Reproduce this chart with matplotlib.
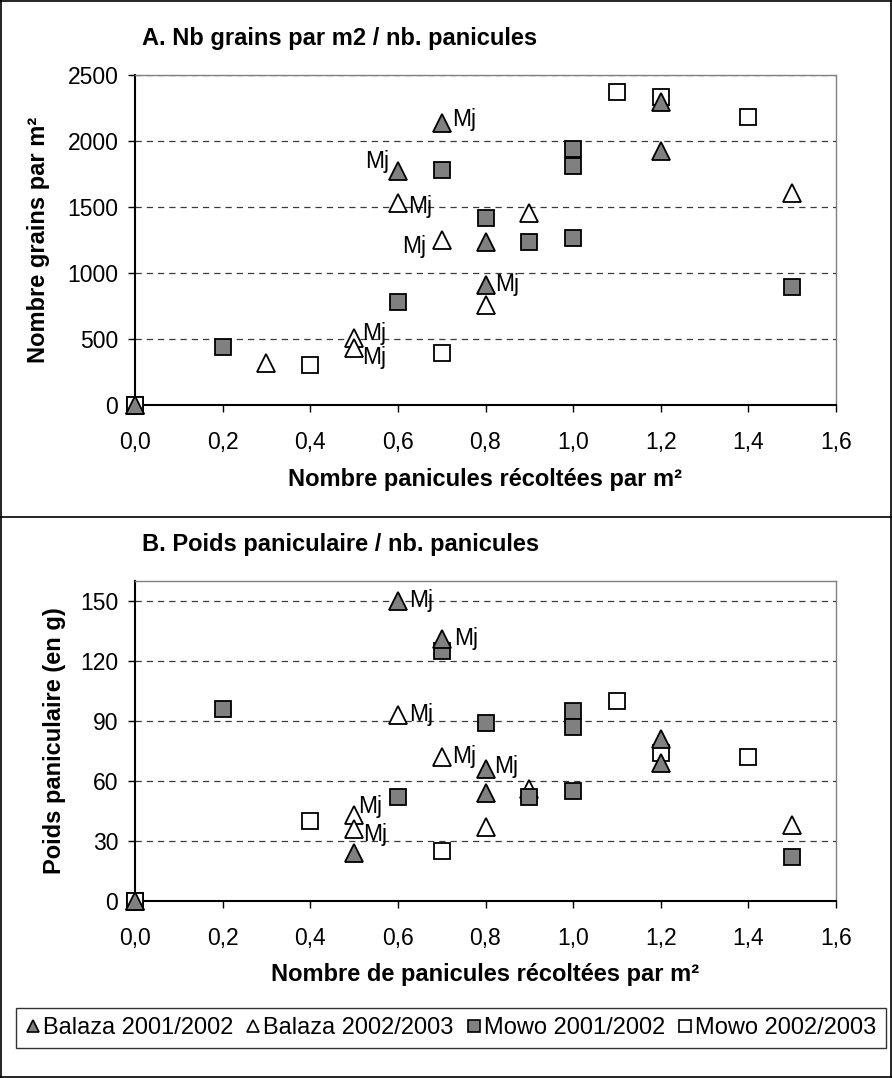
import matplotlib
matplotlib.use('Agg')
import matplotlib.pyplot as plt
from matplotlib.lines import Line2D

plt.rcParams['font.family'] = ['Liberation Sans', 'DejaVu Sans']

# --- data ---
series = ['Balaza 2001/2002', 'Balaza 2002/2003', 'Mowo 2001/2002', 'Mowo 2002/2003']

# A. grains per m2 vs panicles per m2
a_bal01_x = [0.0, 0.6, 0.7, 0.8, 0.8, 1.2, 1.2]
a_bal01_y = [0, 1770, 2136, 1235, 909, 2295, 1924]
a_bal02_x = [0.0, 0.3, 0.5, 0.5, 0.6, 0.7, 0.8, 0.9, 1.5]
a_bal02_y = [0, 318, 508, 432, 1530, 1250, 758, 1455, 1606]
a_mow01_x = [0.0, 0.2, 0.6, 0.7, 0.8, 0.9, 1.0, 1.0, 1.0, 1.5]
a_mow01_y = [0, 440, 780, 1780, 1415, 1235, 1940, 1810, 1265, 894]
a_mow02_x = [0.0, 0.4, 0.7, 1.1, 1.2, 1.4]
a_mow02_y = [0, 303, 394, 2371, 2333, 2182]

# B. panicle weight vs panicles per m2
b_bal01_x = [0.0, 0.5, 0.6, 0.7, 0.8, 0.8, 1.2, 1.2]
b_bal01_y = [0, 24, 150, 131, 66, 54, 81, 69]
b_bal02_x = [0.0, 0.5, 0.5, 0.6, 0.7, 0.8, 0.9, 1.5]
b_bal02_y = [0, 43, 36, 93, 72, 37, 56, 38]
b_mow01_x = [0.0, 0.2, 0.6, 0.7, 0.8, 0.9, 1.0, 1.0, 1.0, 1.5]
b_mow01_y = [0, 96, 52, 125, 89, 52, 95, 87, 55, 22]
b_mow02_x = [0.0, 0.4, 0.7, 1.1, 1.2, 1.4]
b_mow02_y = [0, 40, 25, 100, 74, 72]

# "Mj" labelled points: (x, y, dx px, dy px, ha)
a_mj = [(0.6, 1770, -9, 10, 'right'), (0.6, 1530, 10, -3, 'left'), (0.7, 1250, -16, -7, 'right'),
        (0.7, 2136, 10, 4, 'left'), (0.8, 909, 10, 1, 'left'), (0.5, 508, 8, 4, 'left'),
        (0.5, 432, 8, -10, 'left')]
b_mj = [(0.6, 150, 11, 0, 'left'), (0.7, 131, 12, 1, 'left'), (0.6, 93, 11, 0, 'left'),
        (0.7, 72, 10, 0, 'left'), (0.8, 66, 9, 3, 'left'), (0.5, 43, 4, 8, 'left'),
        (0.5, 36, 9, -6, 'left')]

W, H = 892, 1078
fig = plt.figure(figsize=(W / 100, H / 100), dpi=100)

gray = '#808080'
styles = [dict(marker='^', mfc=gray, ms=13, z=5),
          dict(marker='^', mfc='white', ms=13, z=2),
          dict(marker='s', mfc=gray, ms=12, z=3),
          dict(marker='s', mfc='white', ms=12, z=4)]
fs = 16.5    # tick labels, Mj
fsb = 17     # bold titles / axis labels


def panel(ax, data, mj, ymax, yticks):
    for (xs, ys), st in zip(data, styles):
        ax.plot(xs, ys, ls='none', marker=st['marker'], mfc=st['mfc'], mec='black', mew=1.3,
                ms=st['ms'], zorder=st['z'], clip_on=False)
    for x, y, dx, dy, ha in mj:
        ax.annotate('Mj', (x, y), xytext=(dx, dy), textcoords='offset pixels', ha=ha, va='center',
                    fontsize=fs, zorder=6)
    ax.set_xlim(0, 1.6)
    ax.set_ylim(0, ymax)
    ax.set_xticks([0, 0.2, 0.4, 0.6, 0.8, 1.0, 1.2, 1.4, 1.6])
    ax.set_xticklabels(['0,0', '0,2', '0,4', '0,6', '0,8', '1,0', '1,2', '1,4', '1,6'])
    ax.set_yticks(yticks)
    for t in yticks[1:]:
        ax.axhline(t, color='#3a3a3a', ls=(0, (5, 4)), lw=0.9, zorder=1)
    ax.tick_params(labelsize=fs, length=5, width=1, direction='out', color='black')
    ax.tick_params(axis='x', pad=14)
    ax.tick_params(axis='y', pad=7)
    for s in ['left', 'bottom']:
        ax.spines[s].set_linewidth(1.5)
    for s in ['top', 'right']:
        ax.spines[s].set_color(gray)
        ax.spines[s].set_linewidth(1)


ax1 = fig.add_axes([135 / W, 1 - 405 / H, 701 / W, 330 / H])
panel(ax1, [(a_bal01_x, a_bal01_y), (a_bal02_x, a_bal02_y), (a_mow01_x, a_mow01_y), (a_mow02_x, a_mow02_y)],
      a_mj, 2500, [0, 500, 1000, 1500, 2000, 2500])
ax1.set_xlabel('Nombre panicules récoltées par m²', fontsize=fsb, fontweight='bold', labelpad=10)
ax1.set_ylabel('Nombre grains par m²', fontsize=fsb, fontweight='bold')
ax1.yaxis.set_label_coords(-0.121, 0.5)

ax2 = fig.add_axes([135 / W, 1 - 901 / H, 701 / W, 320 / H])
panel(ax2, [(b_bal01_x, b_bal01_y), (b_bal02_x, b_bal02_y), (b_mow01_x, b_mow01_y), (b_mow02_x, b_mow02_y)],
      b_mj, 160, [0, 30, 60, 90, 120, 150])
ax2.set_xlabel('Nombre de panicules récoltées par m²', fontsize=fsb, fontweight='bold', labelpad=9)
ax2.set_ylabel('Poids paniculaire (en g)', fontsize=fsb, fontweight='bold')
ax2.yaxis.set_label_coords(-0.099, 0.5)

fig.text(142 / W, 1 - 38 / H, 'A. Nb grains par m2 / nb. panicules', fontsize=fsb, fontweight='bold', va='center')
fig.text(142 / W, 1 - 545 / H, 'B. Poids paniculaire / nb. panicules', fontsize=fsb, fontweight='bold', va='center')

# frames around the two panels
for y in [1 - 1 / H, 1 - 517 / H, 1 / H]:
    fig.add_artist(Line2D([0, 1], [y, y], color='black', lw=1.2, transform=fig.transFigure))
for x in [0.5 / W, 1 - 1 / W]:
    fig.add_artist(Line2D([x, x], [0, 1], color='black', lw=1.2, transform=fig.transFigure))

handles = [Line2D([], [], ls='none', marker=st['marker'], mfc=st['mfc'], mec='black', mew=1.2, ms=9)
           for st in styles]
leg = fig.legend(handles, series, loc='center', bbox_to_anchor=(451 / W, 1 - 1028 / H), ncol=4,
                 fontsize=17, frameon=True, fancybox=False, edgecolor='black', handlelength=0.6,
                 handletextpad=0.12, columnspacing=0.55, borderpad=0.4, borderaxespad=0)
leg.get_frame().set_linewidth(1)

fig.savefig('out.png', dpi=100)
